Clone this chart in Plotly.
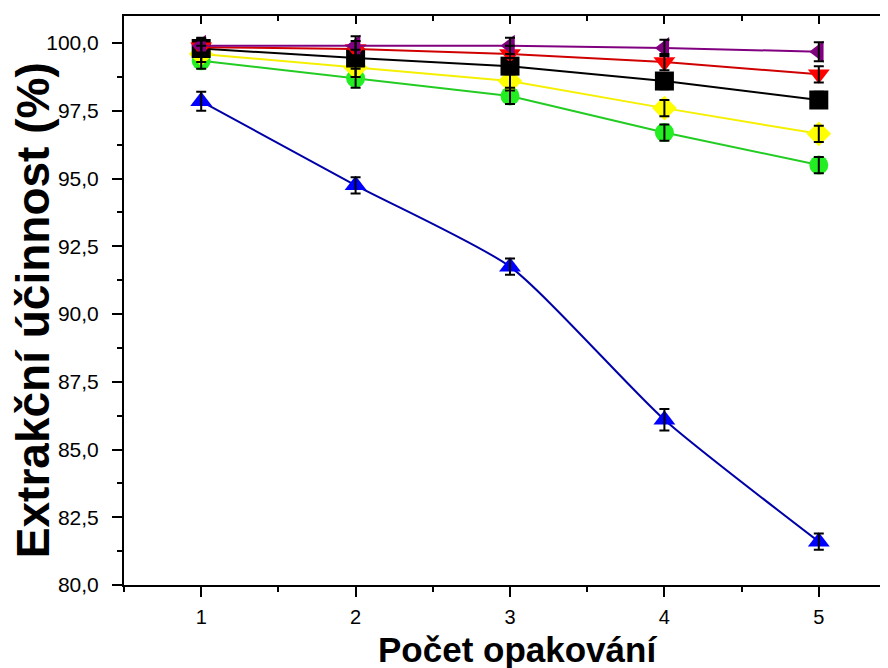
import plotly.graph_objects as go

x = [1, 2, 3, 4, 5]

blue_y = [97.85, 94.75, 91.75, 86.1, 81.6]
blue_err = [0.35, 0.3, 0.3, 0.4, 0.3]
purple_y = [99.9, 99.9, 99.9, 99.82, 99.68]
purple_err = [0.3, 0.35, 0.3, 0.3, 0.35]
red_y = [99.85, 99.78, 99.6, 99.3, 98.85]
red_err = [0.3, 0.3, 0.3, 0.3, 0.3]
black_y = [99.8, 99.45, 99.15, 98.6, 97.9]
black_err = [0.3, 0.3, 0.3, 0.3, 0.3]
yellow_y = [99.6, 99.1, 98.6, 97.6, 96.65]
yellow_err = [0.3, 0.35, 0.35, 0.3, 0.3]
green_y = [99.35, 98.7, 98.05, 96.7, 95.5]
green_err = [0.3, 0.35, 0.3, 0.3, 0.3]

y_ticks = [80.0, 82.5, 85.0, 87.5, 90.0, 92.5, 95.0, 97.5, 100.0]

FONT = "Liberation Sans, Arial, sans-serif"

series = [
    # name, y, err, marker color, line color, symbol, shape
    ("green", green_y, green_err, "#22ee22", "#22cc22", "circle", "linear"),
    ("yellow", yellow_y, yellow_err, "#ffff00", "#f5f000", "diamond", "linear"),
    ("black", black_y, black_err, "#000000", "#000000", "square", "linear"),
    ("red", red_y, red_err, "#ff0000", "#d00000", "triangle-down", "linear"),
    ("purple", purple_y, purple_err, "#800080", "#800080", "triangle-left", "linear"),
    ("blue", blue_y, blue_err, "#0000ff", "#0000a8", "triangle-up", "spline"),
]

fig = go.Figure()
for name, ys, errs, mc, lc, sym, shape in series:
    line = dict(color=lc, width=2, shape=shape)
    if shape == "spline":
        line["smoothing"] = 0.6
    fig.add_trace(go.Scatter(
        x=x, y=ys, mode="lines+markers", name=name,
        line=line,
        marker=dict(symbol=sym, size=19, color=mc, line=dict(width=0)),
        showlegend=False, hoverinfo="skip",
    ))
# error bars on top of markers
for name, ys, errs, mc, lc, sym, shape in series:
    fig.add_trace(go.Scatter(
        x=x, y=ys, mode="markers",
        marker=dict(size=1, color="rgba(0,0,0,0)"),
        error_y=dict(type="data", array=errs, visible=True, color="black",
                     thickness=2, width=5),
        showlegend=False, hoverinfo="skip",
    ))

fig.update_layout(
    width=888, height=668,
    margin=dict(l=116, r=0, t=8, b=91, autoexpand=False),
    paper_bgcolor="white", plot_bgcolor="white",
    separators=", ",
    font=dict(family=FONT, color="black", size=21),
    xaxis=dict(
        range=[0.5, 5.5], tickmode="array", tickvals=x, ticktext=[str(v) for v in x],
        showline=True, linecolor="black", linewidth=2, automargin=False,
        ticks="outside", ticklen=10, tickwidth=2, tickcolor="black",
        minor=dict(dtick=0.5, tick0=0.5, ticks="outside", ticklen=5, tickwidth=2, tickcolor="black"),
        showgrid=False, zeroline=False, tickfont=dict(size=20), ticklabelstandoff=3,
    ),
    xaxis2=dict(
        overlaying="x", side="top", matches="x", range=[0.5, 5.5],
        tickmode="array", tickvals=x, showticklabels=False, automargin=False,
        showline=True, linecolor="black", linewidth=2,
        ticks="inside", ticklen=8, tickwidth=2, tickcolor="black",
        minor=dict(dtick=0.5, tick0=0.5, ticks="inside", ticklen=5, tickwidth=2, tickcolor="black"),
        showgrid=False, zeroline=False,
    ),
    yaxis=dict(
        range=[80, 101], tickmode="array", tickvals=y_ticks, tickformat=".1f",
        showline=True, linecolor="black", linewidth=2, automargin=False,
        ticks="outside", ticklen=10, tickwidth=2, tickcolor="black",
        minor=dict(dtick=1.25, tick0=80, ticks="outside", ticklen=5, tickwidth=2, tickcolor="black"),
        showgrid=False, zeroline=False, tickfont=dict(size=21), ticklabelstandoff=9,
    ),
    yaxis2=dict(
        overlaying="y", side="right", matches="y", range=[80, 101],
        tickmode="array", tickvals=y_ticks, showticklabels=False, automargin=False,
        showline=True, linecolor="black", linewidth=2,
        ticks="inside", ticklen=10, tickwidth=2, tickcolor="black",
        showgrid=False, zeroline=False,
    ),
)
# dummy trace to activate the mirrored axes
fig.add_trace(go.Scatter(x=[None], y=[None], xaxis="x2", yaxis="y2", showlegend=False, hoverinfo="skip"))

fig.add_annotation(text="<b>Extrakční účinnost (%)</b>", xref="paper", yref="paper",
                   x=0, y=0.483, xanchor="center", yanchor="middle", xshift=-91,
                   textangle=-90, showarrow=False, font=dict(size=46, family=FONT))
fig.add_annotation(text="<b>Počet opakování</b>", xref="paper", yref="paper",
                   x=0.51, y=0, xanchor="center", yanchor="middle", yshift=-64,
                   showarrow=False, font=dict(size=35, family=FONT))

fig.write_html("out.html")
